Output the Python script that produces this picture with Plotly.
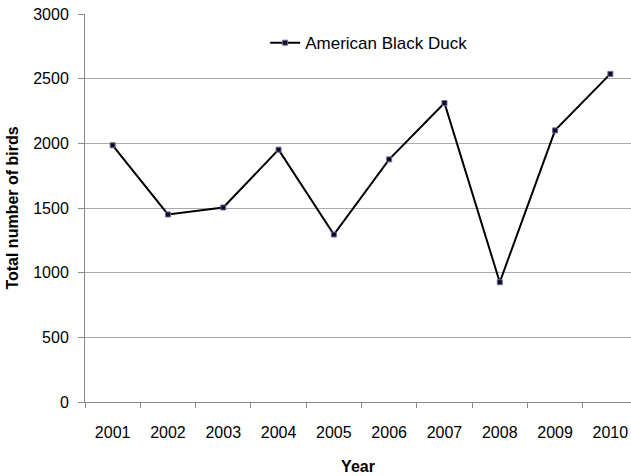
import plotly.graph_objects as go

years = ["2001", "2002", "2003", "2004", "2005", "2006", "2007", "2008", "2009", "2010"]
birds = [1985, 1450, 1504, 1951, 1295, 1876, 2312, 926, 2100, 2537]
series_name = "American Black Duck"
y_ticks = [0, 500, 1000, 1500, 2000, 2500, 3000]

fig = go.Figure()
fig.add_trace(go.Scatter(
    x=years, y=birds, name=series_name, mode="lines+markers",
    line=dict(color="black", width=2),
    marker=dict(symbol="square", size=5, color="#0a0a20",
                line=dict(color="#6a6a9a", width=1)),
))

font_family = "Liberation Sans, Arial, sans-serif"
fig.update_layout(
    width=631, height=476,
    margin=dict(l=85, r=0, t=14, b=74),
    paper_bgcolor="white", plot_bgcolor="white",
    font=dict(family=font_family, size=16, color="black"),
    showlegend=True,
    legend=dict(x=0.33, y=0.925, xanchor="left", yanchor="middle",
                bgcolor="rgba(0,0,0,0)", font=dict(size=17),
                itemwidth=30),
    xaxis=dict(
        type="category", range=[-0.5, 9.373],
        showgrid=False, showline=True, linecolor="#888888", linewidth=1,
        ticks="outside", ticklen=5, tickcolor="#888888", tickson="boundaries",
        tickfont=dict(size=16), ticklabelstandoff=16,
        title=dict(text="<b>Year</b>", font=dict(size=16), standoff=20),
    ),
    yaxis=dict(
        range=[0, 3000], tickvals=y_ticks,
        showgrid=True, gridcolor="#aaaaaa", gridwidth=1,
        showline=True, linecolor="#888888", linewidth=1,
        ticks="outside", ticklen=6, tickcolor="#888888",
        zeroline=False, tickfont=dict(size=16), ticklabelstandoff=6,
        title=dict(text="<b>Total number of birds</b>", font=dict(size=16), standoff=10),
    ),
)

fig.write_html("out.html")
